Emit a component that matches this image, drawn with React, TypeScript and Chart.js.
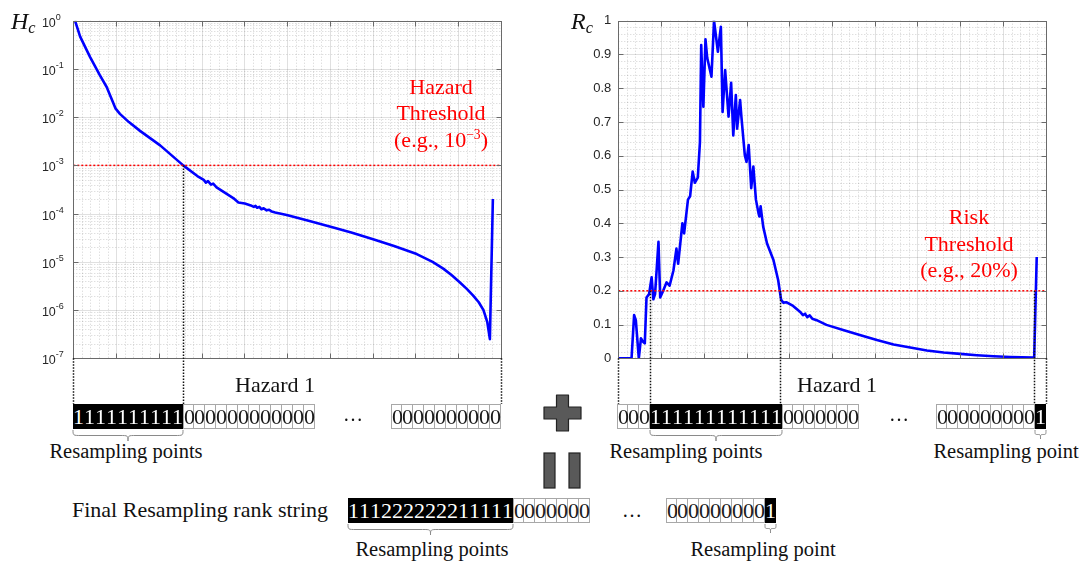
import React, { useEffect, useRef } from "react";
import { Chart, registerables } from "chart.js";

Chart.register(...registerables);

// ---------------- data ----------------
const hazardX = [0.4, 1.6, 3.9, 6.2, 7.8, 9.9, 10.9, 13.0, 15.6, 20.3, 25.7, 29.0, 30.5, 31.0, 31.5, 32.2, 32.7, 33.5, 35.5, 37.4, 38.6, 40.1, 41.5, 42.2, 42.6, 43.0, 43.5, 44.0, 44.5, 45.2, 45.8, 46.4, 47.2, 49.9, 55.0, 60.8, 65.0, 70.1, 75.0, 80.3, 84.0, 86.5, 88.5, 90.4, 92.0, 93.5, 94.8, 95.9, 96.8, 97.4, 98.1];
const hazardY = [1.0, 0.468, 0.178, 0.0741, 0.0422, 0.015, 0.0117, 0.0079, 0.0052, 0.0026, 0.001, 0.0006, 0.0005, 0.00044, 0.00047, 0.0004, 0.00042, 0.00035, 0.00027, 0.00021, 0.00017, 0.000162, 0.000148, 0.000138, 0.000145, 0.000132, 0.000138, 0.000123, 0.000129, 0.000117, 0.00012, 0.00011, 0.000105, 0.0000933, 0.0000708, 0.0000513, 0.0000407, 0.0000295, 0.0000214, 0.0000145, 0.00001, 0.00000724, 0.00000525, 0.00000372, 0.00000275, 0.000002, 0.00000145, 0.000001, 0.00000056, 0.00000025, 0.0002];

const riskX = [0, 3.1, 3.7, 4.1, 4.8, 5.3, 5.8, 6.2, 6.6, 7.2, 7.8, 8.2, 8.6, 9.4, 9.8, 10.5, 11.3, 12.0, 12.9, 13.6, 14.0, 15.0, 15.4, 16.3, 16.8, 17.4, 17.9, 18.6, 19.1, 19.4, 19.9, 20.4, 20.8, 21.8, 22.4, 23.3, 24.0, 24.4, 25.0, 25.8, 26.4, 26.9, 27.5, 27.8, 28.5, 28.8, 29.6, 30.0, 30.5, 31.1, 31.6, 32.2, 32.8, 33.0, 33.3, 33.9, 34.8, 36.3, 37.4, 38.1, 38.6, 39.4, 40.9, 42.5, 43.2, 43.7, 44.2, 44.8, 45.4, 46.4, 48.7, 52.6, 56.5, 60.5, 64.4, 68.3, 72.2, 76.1, 80.0, 83.9, 87.8, 91.7, 97.1, 97.3, 97.9];
const riskY = [0, 0, 0.128, 0.113, 0, 0.059, 0.049, 0.044, 0.18, 0.19, 0.24, 0.175, 0.19, 0.345, 0.18, 0.2, 0.225, 0.215, 0.26, 0.325, 0.28, 0.40, 0.37, 0.47, 0.48, 0.553, 0.52, 0.535, 0.64, 0.928, 0.745, 0.945, 0.89, 0.834, 1.0, 0.908, 0.982, 0.73, 0.854, 0.716, 0.816, 0.66, 0.78, 0.68, 0.765, 0.716, 0.602, 0.582, 0.632, 0.504, 0.568, 0.47, 0.43, 0.42, 0.45, 0.39, 0.34, 0.291, 0.232, 0.173, 0.165, 0.166, 0.155, 0.138, 0.128, 0.132, 0.122, 0.127, 0.117, 0.113, 0.099, 0.084, 0.069, 0.054, 0.041, 0.032, 0.023, 0.017, 0.013, 0.009, 0.006, 0.004, 0.002, 0, 0.30];

const hazardThreshold = 1e-3;
const riskThreshold = 0.2;

const hazardExponents = [0, -1, -2, -3, -4, -5, -6, -7];
const riskTicks = [0, 0.1, 0.2, 0.3, 0.4, 0.5, 0.6, 0.7, 0.8, 0.9, 1];
const riskTickLabels = ["0", "0.1", "0.2", "0.3", "0.4", "0.5", "0.6", "0.7", "0.8", "0.9", "1"];

const hazardDropX = [0, 25.7, 100];
const hazardDropY = [1e-7, 1e-3, 1e-7];
const riskDropX = [0, 7.3, 37.9, 97.3, 100];
const riskDropY = [0, 0.2, 0.2, 0.2, 0];

const hazardBitsA = "1111111111000000000000";
const hazardBitsB = "0000000000";
const riskBitsA = "0001111111111110000000";
const riskBitsB = "0000000001";
const finalBitsA = "1112222222111110000000";
const finalBitsB = "0000000001";

// ---------------- layout ----------------
const SERIF = "'Liberation Serif', 'Times New Roman', serif";
const SANS = "'Liberation Sans', Arial, Helvetica, sans-serif";
const CELL = 11;
const ROW_H = 25;
const DROP_BOTTOM = 404;
const AXIS_COLOR = "#6a6a6a";
const TICK_TEXT = "#262626";

function makeAxesPlugin(kind: "log" | "lin", dropX: number[], dropY: number[]) {
  return {
    id: "matlabAxes_" + kind,
    beforeDatasetsDraw(chart: any) {
      const { ctx, chartArea: a, scales } = chart;
      const xs = scales.x;
      const ys = scales.y;
      const vx = (v: number) => Math.round(xs.getPixelForValue(v)) + 0.5;
      const vy = (v: number) => Math.round(ys.getPixelForValue(v)) + 0.5;
      ctx.save();
      ctx.lineWidth = 1;
      // minor grid
      ctx.strokeStyle = "rgba(0,0,0,0.18)";
      ctx.setLineDash([1, 2]);
      ctx.beginPath();
      for (let v = 2; v < 100; v += 2) {
        if (v % 10 === 0) continue;
        const px = vx(v);
        ctx.moveTo(px, a.top);
        ctx.lineTo(px, a.bottom);
      }
      if (kind === "log") {
        for (let e = -7; e < 0; e++) {
          for (let m = 2; m <= 9; m++) {
            const py = vy(m * Math.pow(10, e));
            ctx.moveTo(a.left, py);
            ctx.lineTo(a.right, py);
          }
        }
      } else {
        for (let k = 1; k < 50; k++) {
          if (k % 5 === 0) continue;
          const py = vy(k * 0.02);
          ctx.moveTo(a.left, py);
          ctx.lineTo(a.right, py);
        }
      }
      ctx.stroke();
      // major grid
      ctx.setLineDash([]);
      ctx.strokeStyle = "rgba(0,0,0,0.12)";
      ctx.beginPath();
      for (let v = 10; v < 100; v += 10) {
        const px = vx(v);
        ctx.moveTo(px, a.top);
        ctx.lineTo(px, a.bottom);
      }
      if (kind === "log") {
        for (const e of hazardExponents) {
          const py = vy(Math.pow(10, e));
          ctx.moveTo(a.left, py);
          ctx.lineTo(a.right, py);
        }
      } else {
        for (const t of riskTicks) {
          const py = vy(t);
          ctx.moveTo(a.left, py);
          ctx.lineTo(a.right, py);
        }
      }
      ctx.stroke();
      ctx.restore();
    },
    afterDatasetsDraw(chart: any) {
      const { ctx, chartArea: a, scales } = chart;
      const xs = scales.x;
      const ys = scales.y;
      const vx = (v: number) => Math.round(xs.getPixelForValue(v)) + 0.5;
      const vy = (v: number) => Math.round(ys.getPixelForValue(v)) + 0.5;
      ctx.save();
      // box
      ctx.strokeStyle = AXIS_COLOR;
      ctx.lineWidth = 1;
      const L = Math.round(a.left) + 0.5, R = Math.round(a.right) + 0.5;
      const T = Math.round(a.top) + 0.5, B = Math.round(a.bottom) + 0.5;
      ctx.strokeRect(L, T, R - L, B - T);
      // tick marks inside
      ctx.beginPath();
      const tl = 5;
      for (let v = 10; v < 100; v += 10) {
        const px = vx(v);
        ctx.moveTo(px, B); ctx.lineTo(px, B - tl);
        ctx.moveTo(px, T); ctx.lineTo(px, T + tl);
      }
      const yTickVals = kind === "log" ? hazardExponents.map((e) => Math.pow(10, e)) : riskTicks;
      for (const t of yTickVals) {
        const py = vy(t);
        ctx.moveTo(L, py); ctx.lineTo(L + tl, py);
        ctx.moveTo(R, py); ctx.lineTo(R - tl, py);
      }
      ctx.stroke();
      // tick labels
      ctx.fillStyle = TICK_TEXT;
      if (kind === "log") {
        for (const e of hazardExponents) {
          const py = ys.getPixelForValue(Math.pow(10, e));
          const expStr = e === 0 ? "0" : "-" + Math.abs(e);
          const ex = a.left - 17.5;
          ctx.font = "12.5px " + SANS;
          ctx.textAlign = "right";
          ctx.textBaseline = "middle";
          ctx.fillText("10", ex, py + 2.5);
          ctx.font = "9px " + SANS;
          ctx.textAlign = "left";
          ctx.fillText(expStr, ex, py - 3.5);
        }
      } else {
        ctx.font = "13px " + SANS;
        ctx.textAlign = "right";
        ctx.textBaseline = "middle";
        riskTicks.forEach((t, i) => {
          ctx.fillText(riskTickLabels[i], a.left - 7, ys.getPixelForValue(t));
        });
      }
      // dotted drop lines
      ctx.strokeStyle = "#111";
      ctx.lineWidth = 1.5;
      ctx.setLineDash([1.5, 1.5]);
      ctx.beginPath();
      dropX.forEach((x, i) => {
        let px = xs.getPixelForValue(x);
        px = Math.round(px) + 0.5;
        ctx.moveTo(px, ys.getPixelForValue(dropY[i]));
        ctx.lineTo(px, DROP_BOTTOM);
      });
      ctx.stroke();
      ctx.restore();
    },
  };
}

function baseOptions(padding: any, yScale: any) {
  return {
    animation: false as const,
    responsive: false,
    maintainAspectRatio: false,
    layout: { padding },
    plugins: { legend: { display: false }, tooltip: { enabled: false } },
    scales: {
      x: { type: "linear", min: 0, max: 100, display: false },
      y: yScale,
    },
    elements: { point: { radius: 0 }, line: { tension: 0 } },
  };
}

function Label({ x, baseline, size, children, color = "#111", center = true, italic = false }: any) {
  const top = baseline - 0.9375 * size;
  return (
    <div
      style={{
        position: "absolute",
        left: x,
        top,
        fontFamily: SERIF,
        fontSize: size,
        lineHeight: size * 1.2 + "px",
        color,
        whiteSpace: "nowrap",
        transform: center ? "translateX(-50%)" : undefined,
        fontStyle: italic ? "italic" : "normal",
      }}
    >
      {children}
    </div>
  );
}

function BitRow({ x, y, bits }: { x: number; y: number; bits: string }) {
  const chars = bits.split("");
  return (
    <>
      {chars.map((b, i) => {
        const on = b !== "0";
        const prevOn = i > 0 && chars[i - 1] !== "0";
        return (
          <div
            key={i}
            style={{
              position: "absolute",
              left: x + i * CELL,
              top: y,
              width: CELL,
              height: ROW_H,
              boxSizing: "border-box",
              background: on ? "#000" : "#fff",
              borderTop: on ? "none" : "1px solid #a8a8a8",
              borderBottom: on ? "none" : "1px solid #a8a8a8",
              borderRight: on ? "none" : "1px solid #a8a8a8",
              borderLeft: on ? "none" : i === 0 || prevOn ? "1px solid #a8a8a8" : "none",
              color: on ? "#fff" : "#1a1a1a",
              fontFamily: SERIF,
              fontSize: 22,
              lineHeight: ROW_H - (on ? 0 : 2) + "px",
              textAlign: "center",
              overflow: "visible",
            }}
          >
            {b}
          </div>
        );
      })}
    </>
  );
}

function bracePath(x1: number, x2: number, y: number, h: number) {
  const mid = (x1 + x2) / 2;
  const r = Math.min(8, (x2 - x1) / 4);
  const ym = y + h * 0.5;
  return (
    `M ${x1} ${y} C ${x1} ${ym} ${x1} ${ym} ${x1 + r} ${ym} L ${mid - r} ${ym} C ${mid} ${ym} ${mid} ${ym} ${mid} ${y + h} ` +
    `M ${mid} ${y + h} C ${mid} ${ym} ${mid} ${ym} ${mid + r} ${ym} L ${x2 - r} ${ym} C ${x2} ${ym} ${x2} ${ym} ${x2} ${y}`
  );
}

export default function App() {
  const leftRef = useRef<HTMLCanvasElement>(null);
  const rightRef = useRef<HTMLCanvasElement>(null);

  useEffect(() => {
    const left = new Chart(leftRef.current as HTMLCanvasElement, {
      type: "line",
      data: {
        datasets: [
          {
            data: [
              { x: 0, y: hazardThreshold },
              { x: 100, y: hazardThreshold },
            ],
            borderColor: "#ff0000",
            borderWidth: 1.5,
            borderDash: [2, 2],
            order: 0,
          },
          {
            data: hazardX.map((x, i) => ({ x, y: hazardY[i] })),
            borderColor: "#0000ff",
            borderWidth: 2.6,
            borderJoinStyle: "round",
            order: 1,
          },
        ],
      },
      options: baseOptions(
        { left: 73.3, right: 39, top: 20.7, bottom: 51.7 },
        { type: "logarithmic", min: 1e-7, max: 1, display: false }
      ) as any,
      plugins: [makeAxesPlugin("log", hazardDropX, hazardDropY)],
    } as any);

    const right = new Chart(rightRef.current as HTMLCanvasElement, {
      type: "line",
      data: {
        datasets: [
          {
            data: [
              { x: 0, y: riskThreshold },
              { x: 100, y: riskThreshold },
            ],
            borderColor: "#ff0000",
            borderWidth: 1.5,
            borderDash: [2, 2],
            order: 0,
          },
          {
            data: riskX.map((x, i) => ({ x, y: riskY[i] })),
            borderColor: "#0000ff",
            borderWidth: 2.6,
            borderJoinStyle: "round",
            order: 1,
          },
        ],
      },
      options: baseOptions(
        { left: 78.3, right: 37.3, top: 20.7, bottom: 51.7 },
        { type: "linear", min: 0, max: 1, display: false }
      ) as any,
      plugins: [makeAxesPlugin("lin", riskDropX, riskDropY)],
    } as any);

    return () => {
      left.destroy();
      right.destroy();
    };
  }, []);

  const red = "#ff0000";
  const sup = { fontSize: "0.62em", verticalAlign: "0.6em", lineHeight: 0 } as any;
  const sub = { fontSize: "0.68em", verticalAlign: "-0.25em", lineHeight: 0 } as any;

  return (
    <div style={{ position: "absolute", left: 0, top: 0, width: 1083, height: 563, background: "#fff", overflow: "hidden" }}>
      <canvas ref={leftRef} width={540} height={410} style={{ position: "absolute", left: 0, top: 0, width: 540, height: 410 }} />
      <canvas ref={rightRef} width={543} height={410} style={{ position: "absolute", left: 540, top: 0, width: 543, height: 410 }} />

      {/* axis titles */}
      <Label x={11} baseline={29.5} size={24} center={false} italic>
        H<span style={sub}>c</span>
      </Label>
      <Label x={571} baseline={29.5} size={24} center={false} italic>
        R<span style={sub}>c</span>
      </Label>

      {/* threshold annotations */}
      <Label x={441} baseline={95} size={22} color={red}>Hazard</Label>
      <Label x={441} baseline={121} size={22} color={red}>Threshold</Label>
      <Label x={441} baseline={148} size={22} color={red}>
        (e.g., 10<span style={sup}>−3</span>)
      </Label>
      <Label x={969} baseline={225} size={22} color={red}>Risk</Label>
      <Label x={969} baseline={251.5} size={22} color={red}>Threshold</Label>
      <Label x={969} baseline={277.5} size={22} color={red}>(e.g., 20%)</Label>

      {/* Hazard 1 labels */}
      <Label x={275} baseline={392.5} size={22}>Hazard 1</Label>
      <Label x={837} baseline={392.5} size={22}>Hazard 1</Label>

      {/* bit rows */}
      <BitRow x={73} y={404} bits={hazardBitsA} />
      <BitRow x={391} y={404} bits={hazardBitsB} />
      <Label x={353} baseline={421} size={20}>…</Label>

      <BitRow x={617} y={404} bits={riskBitsA} />
      <BitRow x={936} y={404} bits={riskBitsB} />
      <Label x={899} baseline={421} size={20}>…</Label>

      <Label x={72} baseline={518} size={22} center={false}>Final Resampling rank string</Label>
      <BitRow x={348} y={498} bits={finalBitsA} />
      <BitRow x={666} y={498} bits={finalBitsB} />
      <Label x={632} baseline={517} size={20}>…</Label>

      {/* Resampling labels */}
      <Label x={126} baseline={458.5} size={20.5}>Resampling points</Label>
      <Label x={686} baseline={458.5} size={20.5}>Resampling points</Label>
      <Label x={1006} baseline={458.5} size={20.5}>Resampling point</Label>
      <Label x={432} baseline={556.5} size={20.5}>Resampling points</Label>
      <Label x={763} baseline={556.5} size={20.5}>Resampling point</Label>

      {/* braces, plus, equals */}
      <svg width={1083} height={563} style={{ position: "absolute", left: 0, top: 0, pointerEvents: "none" }}>
        <g fill="none" stroke="#8a8a8a" strokeWidth={1}>
          <path d={bracePath(73, 183, 430, 11)} />
          <path d={bracePath(650, 782, 430, 11)} />
          <path d={bracePath(1035, 1046, 430, 9)} />
          <path d={bracePath(348, 513, 524, 11)} />
          <path d={bracePath(765, 776, 524, 9)} />
        </g>
        <polygon
          points="556.5,395 568.5,395 568.5,407 581,407 581,419 568.5,419 568.5,431 556.5,431 556.5,419 544,419 544,407 556.5,407"
          fill="#595959"
          stroke="#222"
          strokeWidth={1.2}
          strokeLinejoin="round"
        />
        <rect x={544} y={453} width={11} height={35} fill="#595959" stroke="#222" strokeWidth={1.2} />
        <rect x={569} y={453} width={11} height={35} fill="#595959" stroke="#222" strokeWidth={1.2} />
      </svg>
    </div>
  );
}
